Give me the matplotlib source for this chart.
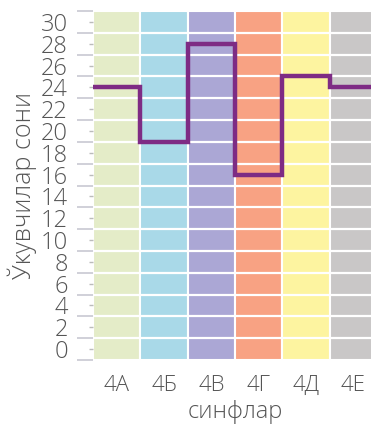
import matplotlib.pyplot as plt
import numpy as np

# data
classes = ["4A", "4Б", "4В", "4Г", "4Д", "4Е"]
students = [24, 19, 28, 16, 25, 24]
colors = ["#e4ecc8", "#a9d9e8", "#aba7d5", "#f8a283", "#fdf4a0", "#c9c7c7"]
y_labels = list(range(0, 31, 2))

plt.rcParams["font.family"] = ["Open Sans", "DejaVu Sans"]

fig = plt.figure(figsize=(3.71, 4.24), dpi=100)
ax = fig.add_axes([93 / 371, 64 / 424, 284 / 371, 349 / 424])

x = np.arange(len(classes))
ax.bar(x, [32] * len(classes), bottom=-1, width=1.0, color=colors,
       edgecolor="white", linewidth=1.5, zorder=1)

# horizontal white row lines
for yy in range(1, 31, 2):
    ax.axhline(yy, color="white", linewidth=1.6, zorder=2)

edges = np.arange(len(classes) + 1) - 0.5
ax.stairs(students, edges, baseline=None, color="#7e2b84", linewidth=3.2, zorder=3)

ax.set_xlim(-0.5, len(classes) - 0.5)
ax.set_ylim(-1, 31)

for s in ax.spines.values():
    s.set_visible(False)

txt = dict(color="#555555", fontweight="light")

ax.set_yticks(y_labels)
ax.set_yticklabels([str(v) for v in y_labels], fontsize=17, **txt)
ax.set_yticks(np.arange(-1, 32, 2), minor=True)
ax.tick_params(axis="y", which="major", length=3, width=1.0, color="#bbbbbb", pad=15)
ax.tick_params(axis="y", which="minor", length=11.5, width=1.2, color="#c8c8d2")

ax.set_xticks(x)
ax.set_xticklabels(classes, fontsize=16, **txt)
ax.tick_params(axis="x", length=0, pad=11)

ax.set_xlabel("синфлар", fontsize=17, labelpad=3, **txt)
ax.set_ylabel("Ўкувчилар сони", fontsize=18, labelpad=3, **txt)

fig.savefig("out.png", dpi=100)
